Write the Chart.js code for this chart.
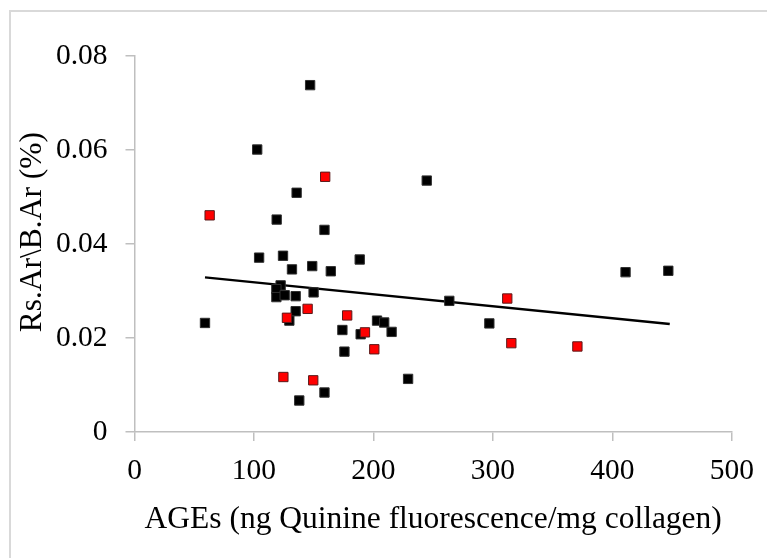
<!DOCTYPE html>
<html>
<head>
<meta charset="utf-8">
<script src="https://cdn.jsdelivr.net/npm/chart.js@4"></script>
<style>
  body { margin: 0; background: #fff; }
  #wrap { position: relative; width: 767px; height: 558px; overflow: hidden; }
  #frame { position: absolute; left: 9px; top: 10px; width: 800px; height: 600px;
           border-top: 2px solid #d9d9d9; border-left: 2px solid #d9d9d9; }
  canvas { position: absolute; left: 0; top: 0; }
</style>
</head>
<body>
<div id="wrap">
  <div id="frame"></div>
  <canvas id="chart" width="767" height="558"></canvas>
</div>
<script>
// black markers
const blackX = [147, 102.7, 135.7, 119, 159, 104.3, 124.3, 131.8, 148.75, 164.3, 188.5,
  122.3, 118.75, 118.75, 125.7, 134.9, 149.9, 134.9, 129.6, 59, 174, 189.3, 175.7, 159, 137.9,
  244.6, 411, 446.8, 263.5, 297, 203, 209, 215.2, 229];
const blackY = [0.0738, 0.0601, 0.0509, 0.0452, 0.0430, 0.0371, 0.0375, 0.0346, 0.0353, 0.0342, 0.0367,
  0.0312, 0.0304, 0.0287, 0.0291, 0.0289, 0.0297, 0.0257, 0.0237, 0.0232, 0.0217, 0.0208, 0.0171, 0.0084, 0.0067,
  0.0535, 0.0340, 0.0343, 0.0279, 0.0231, 0.0237, 0.0233, 0.0213, 0.0113];

// red markers
const redX = [159.6, 62.9, 144.9, 127.6, 178, 192.9, 124.6, 149.6, 312, 315.4, 370.7, 200.7];
const redY = [0.0543, 0.0461, 0.0262, 0.0243, 0.0248, 0.0212, 0.0117, 0.0110, 0.0284, 0.0189, 0.0182, 0.0176];

// linear trend line ends
const trendX = [59, 448];
const trendY = [0.0329, 0.0230];

const xTicks = [0, 100, 200, 300, 400, 500];
const yTicks = [0, 0.02, 0.04, 0.06, 0.08];

const pts = (xs, ys) => xs.map((x, i) => ({ x: x, y: ys[i] }));

const serif = "'Liberation Serif', 'Times New Roman', serif";
const axisGrey = '#bfbfbf';

new Chart(document.getElementById('chart'), {
  type: 'scatter',
  data: {
    datasets: [
      {
        data: pts(redX, redY),
        pointStyle: 'rect',
        pointRadius: 6.6,
        backgroundColor: '#ff0000',
        borderColor: '#5a1a1a',
        borderWidth: 1
      },
      {
        data: pts(blackX, blackY),
        pointStyle: 'rect',
        pointRadius: 6.6,
        backgroundColor: '#000000',
        borderColor: '#303030',
        borderWidth: 1
      },
      {
        type: 'line',
        data: pts(trendX, trendY),
        borderColor: '#000',
        borderWidth: 2.5,
        pointRadius: 0,
        fill: false
      }
    ]
  },
  options: {
    responsive: false,
    animation: false,
    layout: { padding: { left: 0, right: 32, top: 56, bottom: 0 } },
    plugins: { legend: { display: false }, tooltip: { enabled: false } },
    scales: {
      x: {
        type: 'linear',
        min: 0, max: 500,
        afterBuildTicks: s => { s.ticks = xTicks.map(v => ({ value: v })); },
        afterFit: s => { s.height = 126; },
        border: { color: axisGrey, width: 1.5 },
        grid: { drawOnChartArea: false, drawTicks: true, tickLength: 9, color: axisGrey, lineWidth: 1.5 },
        ticks: { color: '#000', padding: 13, font: { family: serif, size: 29.5 } },
        title: {
          display: true,
          text: 'AGEs (ng Quinine fluorescence/mg collagen)',
          color: '#000',
          font: { family: serif, size: 31.5 },
          padding: { top: 0, bottom: 19 }
        }
      },
      y: {
        type: 'linear',
        min: 0, max: 0.08,
        afterBuildTicks: s => { s.ticks = yTicks.map(v => ({ value: v })); },
        afterFit: s => { s.width = 134.5; },
        border: { color: axisGrey, width: 1.5 },
        grid: { drawOnChartArea: false, drawTicks: true, tickLength: 9, color: axisGrey, lineWidth: 1.5 },
        ticks: { color: '#000', padding: 18, font: { family: serif, size: 29.5 },
                 callback: v => String(v) },
        title: {
          display: true,
          // leading spaces nudge the centred label up a little, as in the original
          text: '   Rs.Ar\\B.Ar (%)',
          color: '#000',
          font: { family: serif, size: 31.5 },
          padding: { top: 14, bottom: 0 }
        }
      }
    }
  }
});
</script>
</body>
</html>
